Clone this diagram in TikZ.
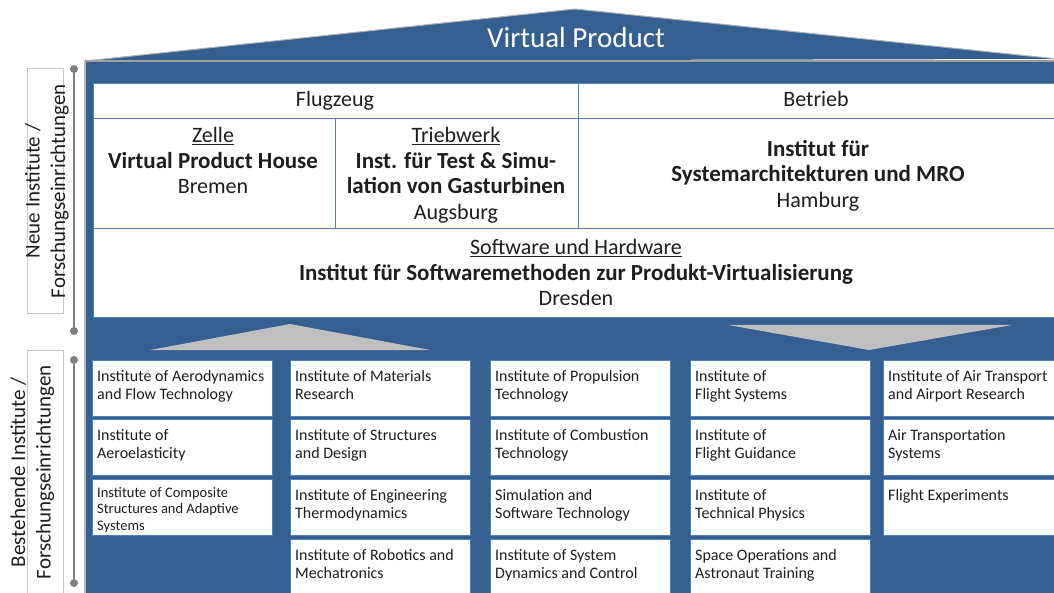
\documentclass[tikz,border=0pt]{standalone}
\usepackage{fontspec}
\setmainfont{Carlito}
\definecolor{houseblue}{RGB}{54,95,145}
\definecolor{cellline}{RGB}{79,129,189}
\definecolor{tri}{RGB}{191,191,191}
\definecolor{lgray}{RGB}{127,127,127}
\definecolor{boxgray}{RGB}{200,200,200}
\definecolor{txt}{RGB}{30,30,30}
\newcommand\lns[2]{\begin{tabular}[t]{@{}#1@{}}#2\end{tabular}}
\newcommand\bigb[1]{{\fontsize{23}{25.5}\selectfont\bfseries #1}}
\begin{document}
\begin{tikzpicture}[x=1pt,y=-1pt,
  cell/.style={fill=white,draw=cellline,line width=0.8pt,anchor=north west,inner sep=0pt,outer sep=0pt},
  bcell/.style={cell,minimum width=180pt,minimum height=56pt},
  big/.style={text=txt,inner sep=0pt,anchor=base,font=\fontsize{22}{25.5}\selectfont},
  small/.style={text=txt,inner sep=0pt,anchor=base west,font=\fontsize{16}{18.3}\selectfont},
  tiny/.style={text=txt,inner sep=0pt,anchor=base west,font=\fontsize{14.5}{16.7}\selectfont},
  dot/.style={circle,fill=lgray,inner sep=0pt,minimum size=8pt},
  vline/.style={draw=lgray,line width=2.2pt},
  labbox/.style={draw=boxgray,line width=0.8pt,anchor=north west,inner sep=0pt,minimum width=36pt},
  labtext/.style={rotate=90,text=txt,align=center,font=\fontsize{21}{25.5}\selectfont,inner sep=0pt}]
\useasboundingbox (0,0) rectangle (1054,593);
\fill[white] (0,0) rectangle (1054,593);
% body
\fill[houseblue] (85,61) rectangle (1060,600);
\draw[gray!55,line width=1.5pt] (85,61) -- (85,600);
% roof
\node[inner sep=0pt] (roofL) at (85,61) {};
\node[inner sep=0pt] (roofT) at (575,9) {};
\node[inner sep=0pt] (roofR) at (1058,59) {};
\fill[houseblue] (roofL.center) -- (roofT.center) -- (roofR.center) -- cycle;
\draw[gray!60,line width=1pt] (roofL.center) -- (roofT.center) -- (roofR.center);
\draw[gray!75,line width=2pt] (85,61.5) -- (1058,61.5);
\node[anchor=base,text=white,inner sep=0pt,font=\fontsize{29}{34}\selectfont] (title) at (576,48) {Virtual Product};
% upper cells
\node[cell,minimum width=485pt,minimum height=35pt] (flug) at (93,83) {};
\node[cell,minimum width=482pt,minimum height=35pt] (betr) at (578,83) {};
\node[cell,minimum width=242pt,minimum height=110pt] (zelle) at (93,118) {};
\node[cell,minimum width=243pt,minimum height=110pt] (trieb) at (335,118) {};
\node[cell,minimum width=482pt,minimum height=110pt] (sys) at (578,118) {};
\node[cell,minimum width=967pt,minimum height=89pt] (soft) at (93,228) {};
\node[big] (flugt) at (335,107) {Flugzeug};
\node[big] (betrt) at (816,107) {Betrieb};
\node[big] (zellet) at (213,143) {\lns{c}{\underline{Zelle}\\\bigb{Virtual Product House}\\Bremen}};
\node[big] (triebt) at (456,143) {\lns{c}{\underline{Triebwerk}\\\bigb{Inst. für Test \& Simu-}\\\bigb{lation von Gasturbinen}\\Augsburg}};
\node[big] (syst) at (818,156.5) {\lns{c}{\bigb{Institut für}\\\bigb{Systemarchitekturen und MRO}\\Hamburg}};
\node[big] (softt) at (576,255) {\lns{c}{\underline{Software und Hardware}\\\bigb{Institut für Softwaremethoden zur Produkt-Virtualisierung}\\Dresden}};
% gray triangles
\fill[tri] (150,350) -- (290,324) -- (430,350) -- cycle;
\fill[tri] (728,325) -- (869,350) -- (1012,325) -- cycle;
% bottom grid
\node[bcell] (a1) at (92,360) {};
\node[bcell] (a2) at (92,419) {};
\node[bcell] (a3) at (92,479) {};
\node[bcell] (b1) at (290,360) {};
\node[bcell] (b2) at (290,419) {};
\node[bcell] (b3) at (290,479) {};
\node[bcell,minimum height=62pt] (b4) at (290,539) {};
\node[bcell] (c1) at (490,360) {};
\node[bcell] (c2) at (490,419) {};
\node[bcell] (c3) at (490,479) {};
\node[bcell,minimum height=62pt] (c4) at (490,539) {};
\node[bcell] (d1) at (690,360) {};
\node[bcell] (d2) at (690,419) {};
\node[bcell] (d3) at (690,479) {};
\node[bcell,minimum height=62pt] (d4) at (690,539) {};
\node[bcell,minimum width=177pt] (e1) at (883,360) {};
\node[bcell,minimum width=177pt] (e2) at (883,419) {};
\node[bcell,minimum width=177pt] (e3) at (883,479) {};
% bottom texts
\node[small] (a1t) at (97,381) {\lns{l}{Institute of Aerodynamics\\and Flow Technology}};
\node[small] (a2t) at (97,440) {\lns{l}{Institute of\\Aeroelasticity}};
\node[tiny] (a3t) at (97,497) {\lns{l}{Institute of Composite\\Structures and Adaptive\\Systems}};
\node[small] (b1t) at (295,381) {\lns{l}{Institute of Materials\\Research}};
\node[small] (b2t) at (295,440) {\lns{l}{Institute of Structures\\and Design}};
\node[small] (b3t) at (295,500) {\lns{l}{Institute of Engineering\\Thermodynamics}};
\node[small] (b4t) at (295,560) {\lns{l}{Institute of Robotics and\\Mechatronics}};
\node[small] (c1t) at (495,381) {\lns{l}{Institute of Propulsion\\Technology}};
\node[small] (c2t) at (495,440) {\lns{l}{Institute of Combustion\\Technology}};
\node[small] (c3t) at (495,500) {\lns{l}{Simulation and\\Software Technology}};
\node[small] (c4t) at (495,560) {\lns{l}{Institute of System\\Dynamics and Control}};
\node[small] (d1t) at (695,381) {\lns{l}{Institute of\\Flight Systems}};
\node[small] (d2t) at (695,440) {\lns{l}{Institute of\\Flight Guidance}};
\node[small] (d3t) at (695,500) {\lns{l}{Institute of\\Technical Physics}};
\node[small] (d4t) at (695,560) {\lns{l}{Space Operations and\\Astronaut Training}};
\node[small] (e1t) at (888,381) {\lns{l}{Institute of Air Transport\\and Airport Research}};
\node[small] (e2t) at (888,440) {\lns{l}{Air Transportation\\Systems}};
\node[small] (e3t) at (888,500) {\lns{l}{Flight Experiments}};
% left labels
\node[labbox,minimum height=245pt] (lab1) at (27,68) {};
\node[labbox,minimum height=260pt] (lab2) at (27,350) {};
\node[labtext] (lab1t) at (47,191) {Neue Institute /\\Forschungseinrichtungen};
\node[labtext] (lab2t) at (32.5,472) {Bestehende Institute /\\Forschungseinrichtungen};
\node[dot] (p1) at (74,69) {};
\node[dot] (p2) at (74,331) {};
\node[dot] (p3) at (74,360) {};
\node[dot] (p4) at (74,583) {};
\draw[vline] (p1) -- (p2);
\draw[vline] (p3) -- (p4);
\end{tikzpicture}
\end{document}
